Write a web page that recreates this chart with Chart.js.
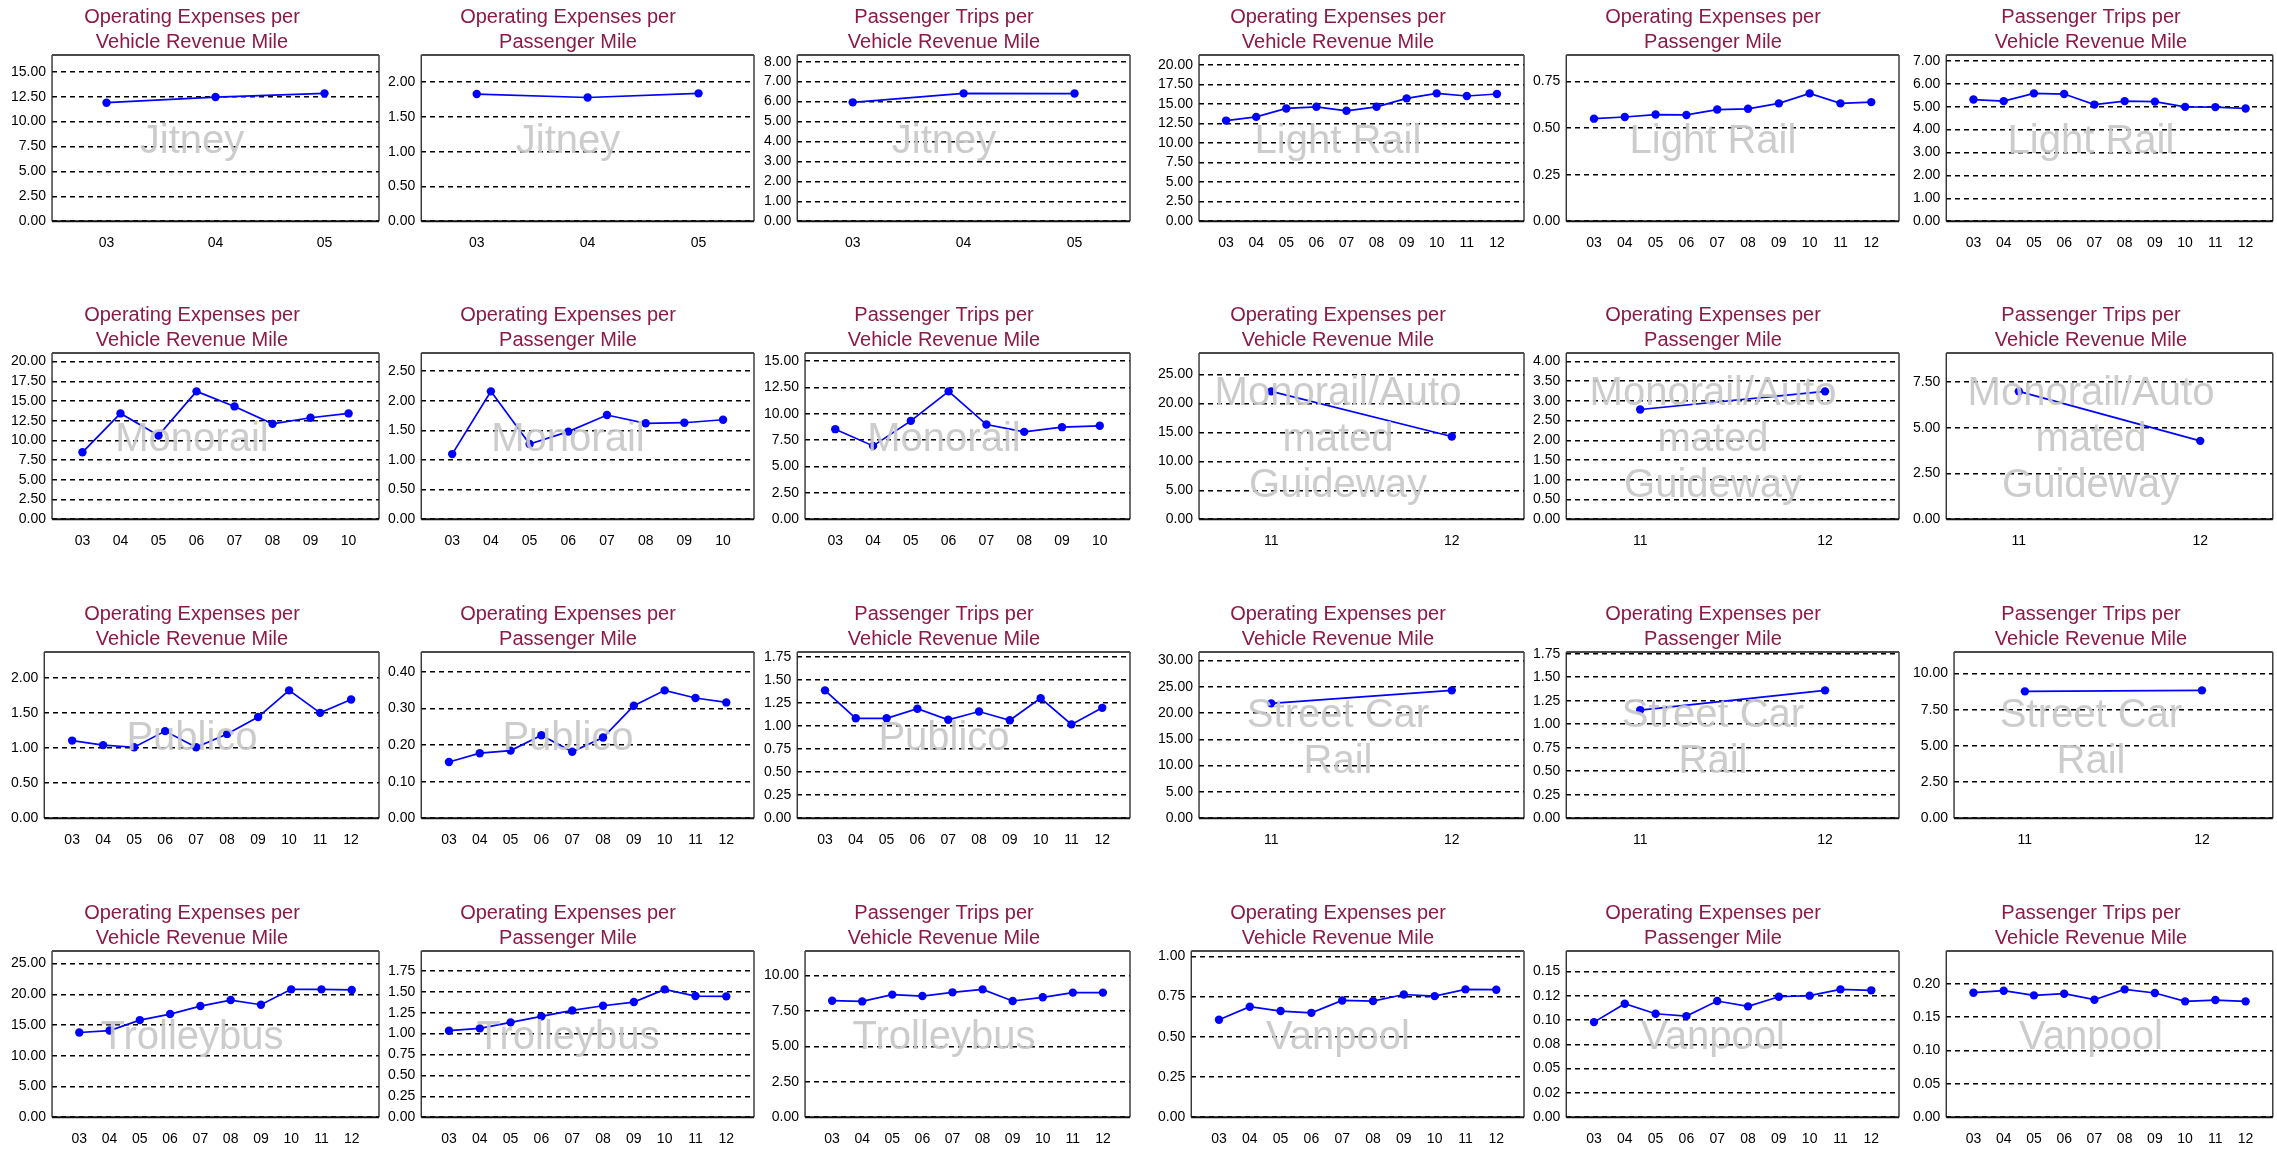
<!DOCTYPE html>
<html>
<head>
<meta charset="utf-8">
<title>Transit performance by mode</title>
<script src="https://cdn.jsdelivr.net/npm/chart.js@4/dist/chart.umd.min.js"></script>
<style>
  html, body { margin: 0; padding: 0; background: #fff; overflow: hidden; }
  #grid { position: relative; width: 2277px; height: 1151px; }
  #grid canvas { position: absolute; }
</style>
</head>
<body>
<div id="grid"></div>
<script>
// fiscal years on the x axis
var years3 = ['03', '04', '05'];
var years8 = ['03', '04', '05', '06', '07', '08', '09', '10'];
var years10 = ['03', '04', '05', '06', '07', '08', '09', '10', '11', '12'];
var years2 = ['11', '12'];

var titleCostVrm = ['Operating Expenses per', 'Vehicle Revenue Mile'];
var titleCostPm = ['Operating Expenses per', 'Passenger Mile'];
var titleTripsVrm = ['Passenger Trips per', 'Vehicle Revenue Mile'];

// Jitney
var jitneyCostVrm = [11.90, 12.47, 12.84];
var jitneyCostPm = [1.83, 1.78, 1.84];
var jitneyTripsVrm = [5.96, 6.41, 6.40];
var jitneySteps = [2.5, 0.5, 1];

// Light Rail
var lightRailCostVrm = [12.86, 13.33, 14.41, 14.62, 14.11, 14.62, 15.70, 16.34, 16.00, 16.26];
var lightRailCostPm = [0.551, 0.560, 0.573, 0.571, 0.600, 0.604, 0.633, 0.687, 0.633, 0.640];
var lightRailTripsVrm = [5.31, 5.24, 5.58, 5.55, 5.09, 5.24, 5.22, 4.99, 4.98, 4.92];
var lightRailSteps = [2.5, 0.25, 1];

// Monorail
var monorailCostVrm = [8.49, 13.42, 10.62, 16.22, 14.31, 12.10, 12.87, 13.42];
var monorailCostPm = [1.10, 2.16, 1.27, 1.48, 1.76, 1.62, 1.63, 1.68];
var monorailTripsVrm = [8.55, 6.96, 9.34, 12.14, 8.99, 8.29, 8.74, 8.87];
var monorailSteps = [2.5, 0.5, 2.5];

// Monorail/Automated Guideway
var guidewayCostVrm = [22.10, 14.29];
var guidewayCostPm = [2.78, 3.24];
var guidewayTripsVrm = [7.00, 4.29];
var guidewaySteps = [5, 0.5, 2.5];

// Publico
var publicoCostVrm = [1.105, 1.04, 1.01, 1.24, 1.01, 1.20, 1.44, 1.82, 1.50, 1.69];
var publicoCostPm = [0.154, 0.178, 0.185, 0.227, 0.182, 0.221, 0.308, 0.350, 0.329, 0.317];
var publicoTripsVrm = [1.39, 1.086, 1.086, 1.19, 1.07, 1.16, 1.065, 1.305, 1.02, 1.20];
var publicoSteps = [0.5, 0.1, 0.25];

// Street Car Rail
var streetCarCostVrm = [21.83, 24.31];
var streetCarCostPm = [1.15, 1.36];
var streetCarTripsVrm = [8.77, 8.84];
var streetCarSteps = [5, 0.25, 2.5];

// Trolleybus
var trolleyCostVrm = [13.78, 14.10, 15.80, 16.78, 18.08, 19.06, 18.30, 20.80, 20.80, 20.70];
var trolleyCostPm = [1.035, 1.063, 1.135, 1.207, 1.278, 1.334, 1.378, 1.530, 1.450, 1.446];
var trolleyTripsVrm = [8.21, 8.16, 8.64, 8.54, 8.80, 9.01, 8.19, 8.45, 8.78, 8.78];
var trolleySteps = [5, 0.25, 2.5];

// Vanpool
var vanpoolCostVrm = [0.606, 0.687, 0.660, 0.649, 0.726, 0.722, 0.763, 0.753, 0.795, 0.793];
var vanpoolCostPm = [0.0978, 0.1167, 0.1064, 0.1040, 0.1195, 0.1140, 0.1239, 0.1250, 0.1315, 0.1305];
var vanpoolTripsVrm = [0.1865, 0.1895, 0.1825, 0.1850, 0.1760, 0.1915, 0.1860, 0.1735, 0.1755, 0.1735];
var vanpoolSteps = [0.25, 0.025, 0.05];
var vanpoolPmTicks = ['0.00', '0.02', '0.05', '0.08', '0.10', '0.12', '0.15'];

var panels = [
    { mode: 'Jitney', years: years3, series: [jitneyCostVrm, jitneyCostPm, jitneyTripsVrm], steps: jitneySteps, row: 0, col: 0 },
    { mode: 'Light Rail', years: years10, series: [lightRailCostVrm, lightRailCostPm, lightRailTripsVrm], steps: lightRailSteps, row: 0, col: 3 },
    { mode: 'Monorail', years: years8, series: [monorailCostVrm, monorailCostPm, monorailTripsVrm], steps: monorailSteps, row: 1, col: 0 },
    { mode: 'Monorail/Automated Guideway', years: years2, series: [guidewayCostVrm, guidewayCostPm, guidewayTripsVrm], steps: guidewaySteps, row: 1, col: 3 },
    { mode: 'Publico', years: years10, series: [publicoCostVrm, publicoCostPm, publicoTripsVrm], steps: publicoSteps, row: 2, col: 0 },
    { mode: 'Street Car Rail', years: years2, series: [streetCarCostVrm, streetCarCostPm, streetCarTripsVrm], steps: streetCarSteps, row: 2, col: 3 },
    { mode: 'Trolleybus', years: years10, series: [trolleyCostVrm, trolleyCostPm, trolleyTripsVrm], steps: trolleySteps, row: 3, col: 0 },
    { mode: 'Vanpool', years: years10, series: [vanpoolCostVrm, vanpoolCostPm, vanpoolTripsVrm], steps: vanpoolSteps, tickLabels: [null, vanpoolPmTicks, null], row: 3, col: 3 }
];
var titles = [titleCostVrm, titleCostPm, titleTripsVrm];

// space left either side of the first/last year, in category units
var xPad = { 2: 0.4, 3: 0.5, 8: 0.8, 10: 0.9 };

var colLeft = [3, 380, 756, 1150, 1525, 1905];
var colWidth = [382, 380, 380, 380, 380, 372];
var colPadRight = [6, 6, 6, 6, 6, 2];
var rowTop = [0, 298, 597, 896];
var chartHeight = 266;

var FONT = "'Liberation Sans', Arial, Helvetica, sans-serif";
Chart.defaults.font.family = FONT;
Chart.defaults.color = '#000';

// wrap like python's textwrap, breaking long words
function wrap(text, width) {
    var lines = [], cur = '';
    text.split(' ').forEach(function (word) {
        while (word.length) {
            var cand = cur ? cur + ' ' + word : word;
            if (cand.length <= width) { cur = cand; word = ''; break; }
            if (cur) { lines.push(cur); cur = ''; continue; }
            lines.push(word.slice(0, width));
            word = word.slice(width);
        }
    });
    if (cur) lines.push(cur);
    return lines;
}

// plot frame: heavy top/bottom spines, thin sides
var framePlugin = {
    id: 'frame',
    beforeDatasetsDraw: function (chart) {
        var a = chart.chartArea, ctx = chart.ctx;
        ctx.save();
        ctx.setLineDash([]);
        ctx.lineWidth = 1.3;
        ctx.strokeStyle = '#222';
        ctx.beginPath();
        ctx.moveTo(a.left, a.top); ctx.lineTo(a.left, a.bottom);
        ctx.moveTo(a.right, a.top); ctx.lineTo(a.right, a.bottom);
        ctx.stroke();
        ctx.lineWidth = 2;
        ctx.strokeStyle = '#4a4a4a';
        ctx.beginPath(); ctx.moveTo(a.left, a.top); ctx.lineTo(a.right, a.top); ctx.stroke();
        ctx.strokeStyle = '#111';
        ctx.beginPath(); ctx.moveTo(a.left, a.bottom); ctx.lineTo(a.right, a.bottom); ctx.stroke();
        ctx.restore();
    }
};

// mode name stamped over the plot
var watermarkPlugin = {
    id: 'watermark',
    afterDatasetsDraw: function (chart, args, opts) {
        var a = chart.chartArea, ctx = chart.ctx;
        var t = chart.titleBlock;
        var cx = t ? t.left + t.width / 2 : chart.width / 2;
        var cy = (a.top + a.bottom) / 2 + 4;
        var lines = opts.lines || [];
        var lh = 46;
        ctx.save();
        ctx.font = '40px ' + FONT;
        ctx.fillStyle = 'rgba(200, 200, 200, 0.92)';
        ctx.textAlign = 'center';
        ctx.textBaseline = 'middle';
        for (var i = 0; i < lines.length; i++) {
            ctx.fillText(lines[i], cx, cy + (i - (lines.length - 1) / 2) * lh);
        }
        ctx.restore();
    }
};

function makeChart(panel, k) {
    var col = panel.col + k;
    var values = panel.series[k];
    var step = panel.steps[k];
    var labels = panel.tickLabels ? panel.tickLabels[k] : null;
    var years = panel.years;
    var pad = xPad[years.length];

    var canvas = document.createElement('canvas');
    canvas.width = colWidth[col];
    canvas.height = chartHeight;
    canvas.style.left = colLeft[col] + 'px';
    canvas.style.top = rowTop[panel.row] + 'px';
    document.getElementById('grid').appendChild(canvas);

    return new Chart(canvas.getContext('2d'), {
        type: 'line',
        data: {
            datasets: [{
                data: values.map(function (v, i) { return { x: i, y: v }; }),
                borderColor: '#0000ff',
                backgroundColor: '#0000ff',
                borderWidth: 1.7,
                pointRadius: 4.2,
                pointBorderWidth: 0,
                pointBackgroundColor: '#0000ff',
                tension: 0
            }]
        },
        options: {
            responsive: false,
            animation: false,
            devicePixelRatio: 1,
            layout: { padding: { left: 2, right: colPadRight[col], top: 0, bottom: 0 } },
            scales: {
                x: {
                    type: 'linear',
                    bounds: 'data',
                    min: -pad,
                    max: years.length - 1 + pad,
                    afterBuildTicks: function (scale) {
                        scale.ticks = years.map(function (y, i) { return { value: i }; });
                    },
                    grid: { display: false, drawTicks: false },
                    border: { display: false },
                    ticks: {
                        autoSkip: false,
                        maxRotation: 0,
                        padding: 14,
                        font: { size: 14 },
                        callback: function (v) { return years[Math.round(v)]; }
                    }
                },
                y: {
                    bounds: 'data',
                    min: 0,
                    max: 1.3 * Math.max.apply(null, values),
                    afterBuildTicks: function (scale) {
                        var t = [];
                        for (var i = 0; i * step <= scale.max + 1e-9; i++) t.push({ value: i * step });
                        scale.ticks = t;
                    },
                    grid: { color: '#000', lineWidth: 1.5, drawTicks: false },
                    border: { display: false, dash: [5, 4] },
                    ticks: {
                        autoSkip: false,
                        padding: 6,
                        font: { size: 14 },
                        callback: function (v, i) { return labels ? labels[i] : v.toFixed(2); }
                    }
                }
            },
            plugins: {
                legend: { display: false },
                tooltip: { enabled: false },
                title: {
                    display: true,
                    text: titles[k],
                    color: '#8b1a46',
                    font: { size: 20, weight: 'normal', lineHeight: 1.25 },
                    padding: { top: 4.5, bottom: 0.5 }
                },
                watermark: { lines: wrap(panel.mode, 13) }
            }
        },
        plugins: [framePlugin, watermarkPlugin]
    });
}

panels.forEach(function (panel) {
    for (var k = 0; k < 3; k++) makeChart(panel, k);
});
</script>
</body>
</html>
